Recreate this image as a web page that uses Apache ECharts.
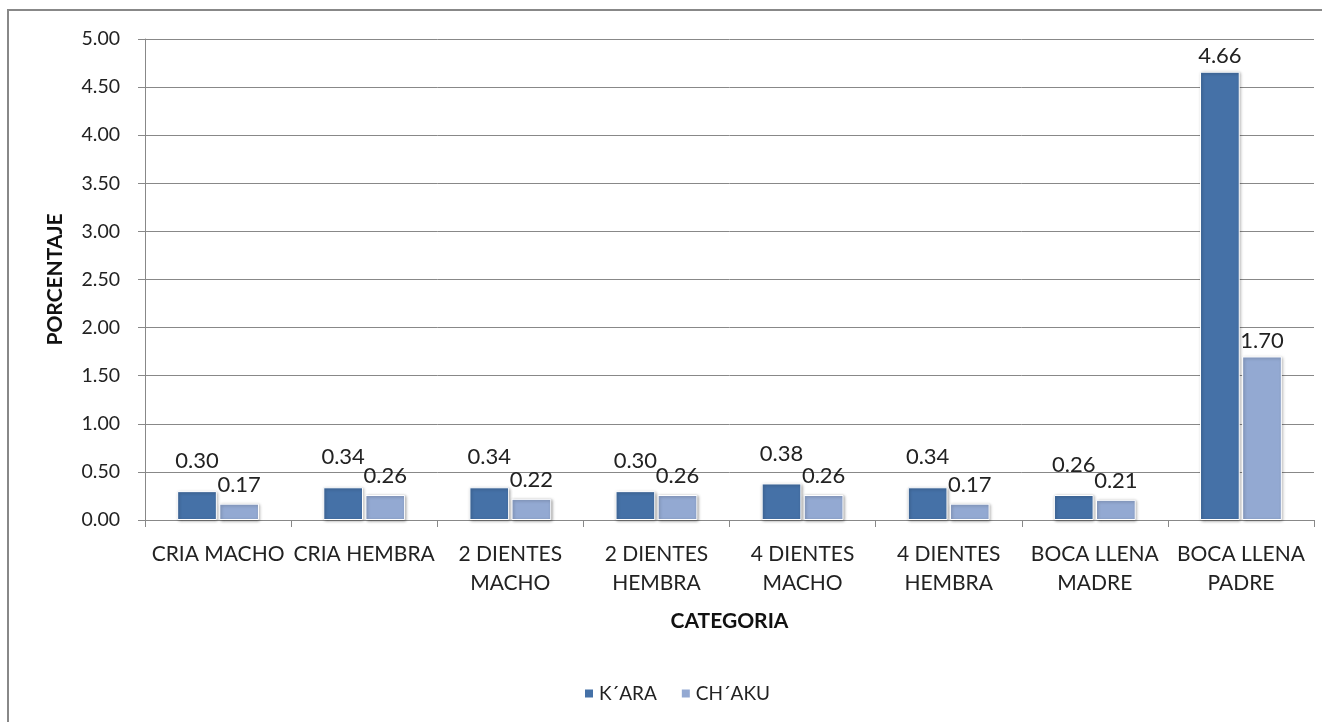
<!DOCTYPE html>
<html>
<head>
<meta charset="utf-8">
<script src="https://cdn.jsdelivr.net/npm/echarts@6/dist/echarts.min.js"></script>
<style>html,body{margin:0;padding:0;background:#fff;}#c{width:1322px;height:722px;}</style>
</head>
<body>
<div id="c"></div>
<script>
const categories = ['CRIA MACHO','CRIA HEMBRA','2 DIENTES\nMACHO','2 DIENTES\nHEMBRA','4 DIENTES\nMACHO','4 DIENTES\nHEMBRA','BOCA LLENA\nMADRE','BOCA LLENA\nPADRE'];
const kara = [0.30, 0.34, 0.34, 0.30, 0.38, 0.34, 0.26, 4.66];
const chaku = [0.17, 0.26, 0.22, 0.26, 0.26, 0.17, 0.21, 1.70];
const seriesNames = ["K´ARA", "CH´AKU"];

const FONT = 'Lato, "Open Sans", sans-serif';
const chart = echarts.init(document.getElementById('c'), null, {renderer:'canvas'});
const barStyle = (color) => ({
  color: color,
  borderColor: '#ffffff',
  borderWidth: 1,
  shadowColor: 'rgba(0,0,0,0.35)',
  shadowBlur: 3,
  shadowOffsetX: 1,
  shadowOffsetY: 1
});
const mk = (arr, smallDist) => arr.map(v => ({value: v, label: {distance: v < 1 ? smallDist : 5}}));
const labelStyle = {show: true, position: 'top', fontSize: 22, color: '#222', formatter: p => p.value.toFixed(2), fontFamily: FONT};
chart.setOption({
  animation: false,
  backgroundColor: '#fff',
  textStyle: {fontFamily: FONT},
  graphic: [{
    type: 'rect',
    shape: {x: 8, y: 10, width: 1330, height: 740},
    style: {fill: 'none', stroke: '#888', lineWidth: 2},
    silent: true
  }],
  grid: {left: 145, right: 8, top: 39, bottom: 202, containLabel: false},
  legend: {
    data: seriesNames,
    top: 679, left: 578,
    itemWidth: 10, itemHeight: 10, itemGap: 23,
    icon: 'rect',
    textStyle: {fontSize: 19, color: '#222', fontFamily: FONT}
  },
  xAxis: {
    type: 'category',
    data: categories,
    name: 'CATEGORIA',
    nameLocation: 'middle',
    nameGap: 91,
    nameTextStyle: {fontSize: 21, fontWeight: 'bold', color: '#111', fontFamily: FONT},
    axisLine: {show: true, lineStyle: {color: '#888', width: 1}},
    axisTick: {show: true, length: 7, alignWithLabel: false, lineStyle: {color: '#888'}},
    axisLabel: {fontSize: 21, color: '#222', margin: 20, lineHeight: 29, interval: 0, fontFamily: FONT},
    splitLine: {show: false}
  },
  yAxis: {
    type: 'value',
    min: 0, max: 5, interval: 0.5,
    name: 'PORCENTAJE',
    nameLocation: 'middle',
    nameGap: 79,
    nameTextStyle: {fontSize: 21, fontWeight: 'bold', color: '#111', fontFamily: FONT},
    axisLine: {show: true, lineStyle: {color: '#888', width: 1}},
    axisTick: {show: true, length: 7, lineStyle: {color: '#888'}},
    axisLabel: {fontSize: 19.5, color: '#222', margin: 25, formatter: v => v.toFixed(2), fontFamily: FONT},
    splitLine: {show: true, lineStyle: {color: '#888', width: 1}}
  },
  series: [
    {
      name: seriesNames[0], type: 'bar',
      data: mk(kara, 19),
      barCategoryGap: '44%', barGap: '6%',
      itemStyle: barStyle('#4571A7'),
      label: labelStyle
    },
    {
      name: seriesNames[1], type: 'bar',
      data: mk(chaku, 8),
      itemStyle: barStyle('#93A9D2'),
      label: labelStyle
    }
  ]
});
</script>
</body>
</html>
